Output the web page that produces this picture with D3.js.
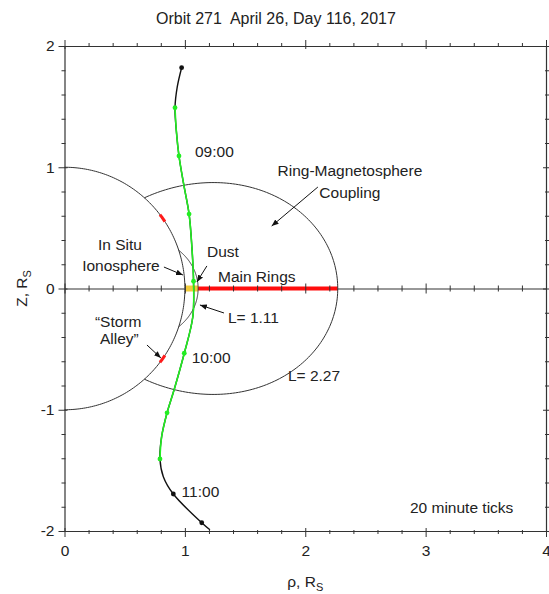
<!DOCTYPE html>
<html><head><meta charset="utf-8">
<script src="https://cdn.jsdelivr.net/npm/d3@7"></script>
<style>body{margin:0;background:#fff} text{font-family:"Liberation Sans",Arial,sans-serif;fill:#222;}</style>
</head><body><svg id="c" width="549" height="594"></svg>
<script>
// ---------- data ----------
const title = "Orbit 271  April 26, Day 116, 2017";
const xMajorTicks = [0, 1, 2, 3, 4];
const yMajorTicks = [-2, -1, 0, 1, 2];
const planetRadius = 1;
const fieldLineL = [1.11, 2.27];
const dustRing = [1.0, 1.11];
const mainRings = [1.11, 2.27];
const stormAlleyLat = [33.5, 37.5];
// trajectory (rho, z); time given where a 20-minute tick sits
const trajTime = ["08:20", "", "08:40", "", "09:00", "", "09:20", "", "09:40", "", "10:00", "", "10:20", "", "10:40", "", "11:00", "11:20", ""];
const trajRho  = [0.973, 0.937, 0.918, 0.930, 0.951, 0.990, 1.035, 1.058, 1.072, 1.066, 0.995, 0.910, 0.852, 0.807, 0.793, 0.821, 0.904, 1.140, 1.208];
const trajZ    = [1.821, 1.664, 1.491, 1.290, 1.093, 0.860, 0.614, 0.345, 0.060, -0.233, -0.534, -0.837, -1.025, -1.222, -1.406, -1.552, -1.695, -1.932, -1.990];
const greenFrom = "08:40", greenTo = "10:40";

// ---------- layout ----------
const svg = d3.select("#c");
const x = d3.scaleLinear().domain([0, 4]).range([64.5, 546]);
const y = d3.scaleLinear().domain([-2, 2]).range([531, 46]);
const ink = "#333";
const fs = 15.5;

// title
svg.append("text").attr("x", 276).attr("y", 24).attr("text-anchor", "middle")
  .attr("font-size", 16).style("white-space", "pre").attr("xml:space", "preserve").text(title);

// defs arrow
svg.append("defs").append("marker").attr("id", "ah").attr("viewBox", "0 0 10 10")
  .attr("refX", 10).attr("refY", 5).attr("markerWidth", 7).attr("markerHeight", 7)
  .attr("markerUnits", "userSpaceOnUse").attr("orient", "auto")
  .append("path").attr("d", "M0,1 L10,5 L0,9 Z").attr("fill", "#111");

// ---------- axes ----------
const minorX = x.ticks(20), minorY = y.ticks(20);
const isMajor = d => Math.abs(d - Math.round(d)) < 1e-6;
function styleAxis(g, horizontal, outSign) {
  g.select(".domain").attr("stroke", ink).attr("stroke-width", 1.2);
  g.selectAll(".tick line").attr("stroke", ink).attr("stroke-width", 1)
    .each(function(d) {
      const M = isMajor(d);
      const o = (M ? 6 : 3) * outSign, i = (M ? 3 : 1) * -outSign;
      if (horizontal) d3.select(this).attr("y1", i).attr("y2", o);
      else d3.select(this).attr("x1", i).attr("x2", o);
    });
}
const fmt = d => isMajor(d) && xMajorTicks.includes(Math.round(d)) ? d3.format("d")(d) : "";
const fmtY = d => isMajor(d) && yMajorTicks.includes(Math.round(d)) ? d3.format("d")(d).replace("\u2212", "-") : "";

const gb = svg.append("g").attr("transform", `translate(0,${y(-2)})`)
  .call(d3.axisBottom(x).tickValues(minorX).tickFormat(fmt).tickSizeOuter(0));
styleAxis(gb, true, 1);
gb.selectAll("text").attr("font-size", fs).attr("y", 14).attr("fill", "#222");

const gt = svg.append("g").attr("transform", `translate(0,${y(2)})`)
  .call(d3.axisTop(x).tickValues(minorX).tickFormat("").tickSizeOuter(0));
styleAxis(gt, true, -1);

const gl = svg.append("g").attr("transform", `translate(${x(0)},0)`)
  .call(d3.axisLeft(y).tickValues(minorY).tickFormat(fmtY).tickSizeOuter(0));
styleAxis(gl, false, -1);
gl.selectAll("text").attr("font-size", fs).attr("x", -10).attr("fill", "#222");

const gr = svg.append("g").attr("transform", `translate(${x(4)},0)`)
  .call(d3.axisRight(y).tickValues(minorY).tickFormat("").tickSizeOuter(0));
styleAxis(gr, false, 1);

// zero line (below the rings)
const gz = svg.append("g").attr("transform", `translate(0,${y(0)})`)
  .call(d3.axisBottom(x).tickValues(minorX).tickFormat("").tickSizeOuter(0).tickSize(0));
gz.select(".domain").attr("stroke", ink).attr("stroke-width", 1.1);

// ---------- rings on the equator ----------
svg.append("line").attr("x1", x(dustRing[0])).attr("x2", x(dustRing[1]))
  .attr("y1", y(0)).attr("y2", y(0)).attr("stroke", "#f2cc3a").attr("stroke-width", 6);
svg.append("line").attr("x1", x(mainRings[0])).attr("x2", x(mainRings[1]))
  .attr("y1", y(0)).attr("y2", y(0)).attr("stroke", "#ff0d0d").attr("stroke-width", 4);

// zero line ticks (above the rings)
const gz2 = svg.append("g").attr("transform", `translate(0,${y(0)})`)
  .call(d3.axisBottom(x).tickValues(minorX).tickFormat("").tickSizeOuter(0));
gz2.select(".domain").remove();
gz2.selectAll(".tick line").attr("stroke", ink)
  .each(function(d) { const s = isMajor(d) ? 5 : 3; d3.select(this).attr("y1", -s).attr("y2", s); });

// ---------- planet and field lines ----------
const lineXY = d3.line().x(d => x(d[0])).y(d => y(d[1]));
const rad = Math.PI / 180;
const planetPts = d3.range(-90, 90.01, 1).map(a => [planetRadius * Math.cos(a * rad), planetRadius * Math.sin(a * rad)]);
svg.append("path").attr("d", lineXY(planetPts)).attr("fill", "none").attr("stroke", ink).attr("stroke-width", 1);

fieldLineL.forEach(L => {
  const lm = Math.acos(Math.sqrt(planetRadius / L)) / rad;
  const pts = d3.range(-lm, lm + 0.001, lm / 90).map(a => {
    const r = L * Math.cos(a * rad) ** 2;
    return [r * Math.cos(a * rad), r * Math.sin(a * rad)];
  });
  svg.append("path").attr("d", lineXY(pts)).attr("fill", "none").attr("stroke", ink).attr("stroke-width", 1);
});

// storm alley (both hemispheres)
[1, -1].forEach(s => {
  const pts = d3.range(stormAlleyLat[0], stormAlleyLat[1] + 0.01, 0.5)
    .map(a => [planetRadius * Math.cos(a * rad), s * planetRadius * Math.sin(a * rad)]);
  svg.append("path").attr("d", lineXY(pts)).attr("fill", "none").attr("stroke", "#ff1a1a").attr("stroke-width", 3);
});

// ---------- trajectory ----------
const traj = trajRho.map((r, i) => ({ rho: r, z: trajZ[i], t: trajTime[i] }));
const gi0 = trajTime.indexOf(greenFrom), gi1 = trajTime.indexOf(greenTo);
const curve = d3.line().x(d => x(d.rho)).y(d => y(d.z)).curve(d3.curveCatmullRom.alpha(0.5));
svg.append("path").attr("d", curve(traj)).attr("fill", "none").attr("stroke", "#111").attr("stroke-width", 1.4);
const green = traj.slice(gi0, gi1 + 1);
svg.append("path").attr("d", curve(green)).attr("fill", "none").attr("stroke", "#22ee22").attr("stroke-width", 1.6);
traj.forEach((d, i) => {
  if (!d.t) return;
  const g = i >= gi0 && i <= gi1;
  svg.append("circle").attr("cx", x(d.rho)).attr("cy", y(d.z)).attr("r", 2.4)
    .attr("fill", g ? "#22ee22" : "#111");
});

// ---------- annotations ----------
const texts = [
  { t: "09:00", p: [1.084, 1.085], a: "start" },
  { t: "10:00", p: [1.057, -0.614], a: "start" },
  { t: "11:00", p: [0.973, -1.720], a: "start" },
  { t: "Ring-Magnetosphere", p: [2.371, 0.930], a: "middle" },
  { t: "Coupling", p: [2.371, 0.750], a: "middle" },
  { t: "In Situ", p: [0.461, 0.318], a: "middle" },
  { t: "Ionosphere", p: [0.469, 0.144], a: "middle" },
  { t: "Dust", p: [1.184, 0.260], a: "start" },
  { t: "Main Rings", p: [1.275, 0.054], a: "start" },
  { t: "L= 1.11", p: [1.358, -0.285], a: "start" },
  { t: "L= 2.27", p: [1.856, -0.763], a: "start" },
  { t: "\u201cStorm", p: [0.253, -0.318], a: "start" },
  { t: "Alley\u201d", p: [0.295, -0.455], a: "start" },
  { t: "20 minute ticks", p: [2.870, -1.852], a: "start" }
];
texts.forEach(d => svg.append("text").attr("x", x(d.p[0])).attr("y", y(d.p[1]))
  .attr("text-anchor", d.a).attr("font-size", fs).text(d.t));

const arrows = [
  [[2.105, 0.837], [1.721, 0.515]],
  [[0.826, 0.177], [0.984, 0.111]],
  [[1.183, 0.186], [1.100, 0.054]],
  [[1.325, -0.202], [1.125, -0.136]],
  [[0.685, -0.466], [0.801, -0.573]]
];
arrows.forEach(a => svg.append("line").attr("x1", x(a[0][0])).attr("y1", y(a[0][1]))
  .attr("x2", x(a[1][0])).attr("y2", y(a[1][1])).attr("stroke", "#111").attr("stroke-width", 1)
  .attr("marker-end", "url(#ah)"));

// axis titles
const xl = svg.append("text").attr("x", x(2)).attr("y", 587).attr("text-anchor", "middle").attr("font-size", fs);
xl.append("tspan").text("\u03c1, R");
xl.append("tspan").attr("font-size", 11).attr("dy", 4).text("S");
const yl = svg.append("text").attr("transform", `translate(27,${y(0)}) rotate(-90)`).attr("text-anchor", "middle").attr("font-size", fs);
yl.append("tspan").text("Z, R");
yl.append("tspan").attr("font-size", 11).attr("dy", 4).text("S");
</script></body></html>
